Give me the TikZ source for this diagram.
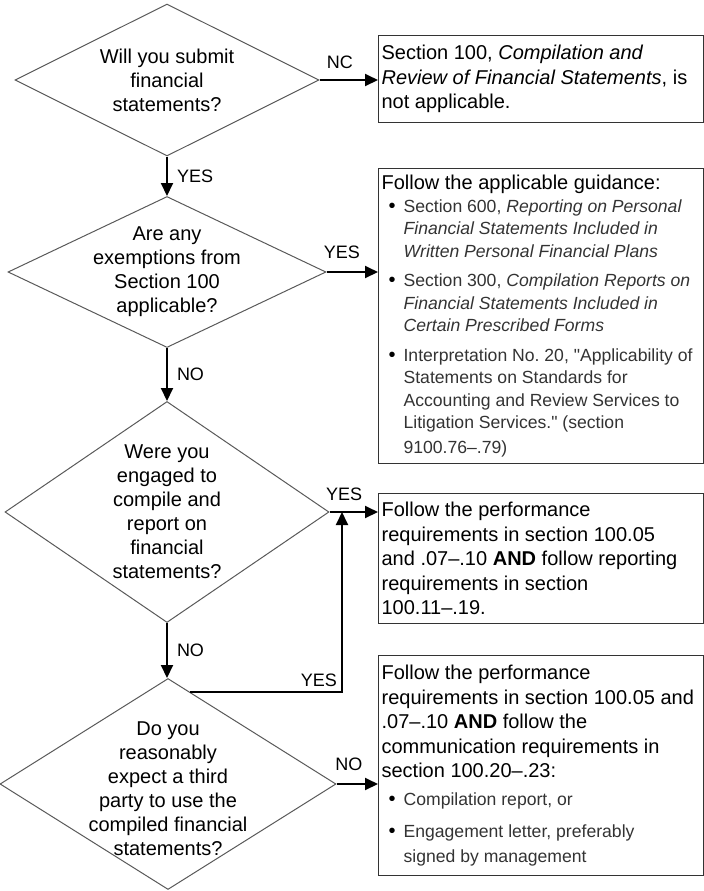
\documentclass[tikz,border=0pt]{standalone}
\usepackage{fontspec}
\setmainfont{Liberation Sans}[Ligatures=TeXOff]
\usetikzlibrary{shapes.geometric,arrows.meta,calc}
\newcommand{\bfont}{\fontsize{8.8}{11.25}\selectfont\color{black!80}}
\newcommand{\bul}{\makebox[11pt][l]{\hspace{3.5pt}{\color{black}\fontsize{10}{11.25}\selectfont\textbullet}}}
\newcommand{\ind}{\hspace*{11pt}}

\begin{document}
\frenchspacing
\begin{tikzpicture}[x=0.5pt,y=-0.5pt]
    \tikzstyle{decision}=[diamond, draw=black!65, line width=0.5pt, inner sep=0pt]
    \tikzstyle{question}=[align=center, inner sep=0pt, font=\fontsize{10}{12}\selectfont]
    \tikzstyle{outcome}=[rectangle, draw=black!80, line width=0.6pt, anchor=north west, text width=159.5pt, inner xsep=1.5pt, align=flush left, font=\fontsize{10}{12.3}\selectfont]
    \tikzstyle{flow}=[line width=1pt, -{Triangle[length=6.5pt,width=6pt]}]
    \tikzstyle{answer}=[font=\fontsize{9}{10}\selectfont, inner sep=2pt]
    \useasboundingbox (0,0) rectangle (704,891);

    \node[decision, minimum width=152pt, minimum height=76pt] (q1) at (167,80) {};
    \node[decision, minimum width=159pt, minimum height=75.5pt] (q2) at (167,272) {};
    \node[decision, minimum width=162pt, minimum height=110.5pt] (q3) at (167,512) {};
    \node[decision, minimum width=168pt, minimum height=105.5pt] (q4) at (168,784) {};
    \node[question] (t1) at (q1) {Will you submit\\financial\\statements?};
    \node[question] (t2) at (q2) {Are any\\exemptions from\\Section 100\\applicable?};
    \node[question] (t3) at (q3) {Were you\\engaged to\\compile and\\report on\\financial\\statements?};
    \node[question, yshift=-2.5pt] (t4) at (q4) {Do you\\reasonably\\expect a third\\party to use the\\compiled financial\\statements?};

    \node[outcome, minimum height=43.5pt] (r1) at (378,35) {Section 100, \textit{Compilation and}\\\textit{Review of Financial Statements}, is\\not applicable.};
    \node[outcome, minimum height=146.5pt] (r2) at (378,168) {Follow the applicable guidance:\\
        \bfont\bul Section 600, \textit{Reporting on Personal}\\
        \ind\textit{Financial Statements Included in}\\
        \ind\textit{Written Personal Financial Plans}\\[3.5pt]
        \bul Section 300, \textit{Compilation Reports on}\\
        \ind\textit{Financial Statements Included in}\\
        \ind\textit{Certain Prescribed Forms}\\[3.5pt]
        \bul\mbox{Interpretation No. 20, "Applicability of}\\
        \ind Statements on Standards for\\
        \ind Accounting and Review Services to\\
        \ind Litigation Services." (section\\
        \ind 9100.76–.79)};
    \node[outcome, minimum height=65pt] (r3) at (378,493) {Follow the performance\\requirements in section 100.05\\and .07–.10 \textbf{AND} follow reporting\\requirements in section\\100.11–.19.};
    \node[outcome, minimum height=110pt] (r4) at (378,655) {Follow the performance\\\mbox{requirements in section 100.05 and}\\.07–.10 \textbf{AND} follow the\\communication requirements in\\section 100.20–.23:\\[2.75pt]
        \bfont\bul Compilation report, or\\[4.75pt]
        \bul Engagement letter, preferably\\
        \ind signed by management};

    \coordinate (fork) at ($(q4.north)!0.13!(q4.east)$);
    \coordinate (rail) at (342,512);

    \draw[flow] (q1.east) -- (q1.east -| r1.west) node[answer, pos=0.35, above=3pt] {NC};
    \draw[flow] (q2.east) -- (q2.east -| r2.west) node[answer, pos=0.3, above=4pt] {YES};
    \draw[flow] (q3.east) -- (q3.east -| r3.west) node[answer, pos=0.3, above=3pt] {YES};
    \draw[flow] (q4.east) -- (q4.east -| r4.west) node[answer, pos=0.3, above=4pt] {NO};
    \draw[flow] (q1.south) -- (q2.north) node[answer, midway, right=2.5pt] {YES};
    \draw[flow] (q2.south) -- (q3.north) node[answer, midway, right=2.5pt] {NO};
    \draw[flow] (q3.south) -- (q4.north -| q3.south) node[answer, midway, right=2.5pt] {NO};
    \draw[flow] (fork) -- (fork -| rail) node[answer, above left] {YES} -- (rail);
\end{tikzpicture}
\end{document}
